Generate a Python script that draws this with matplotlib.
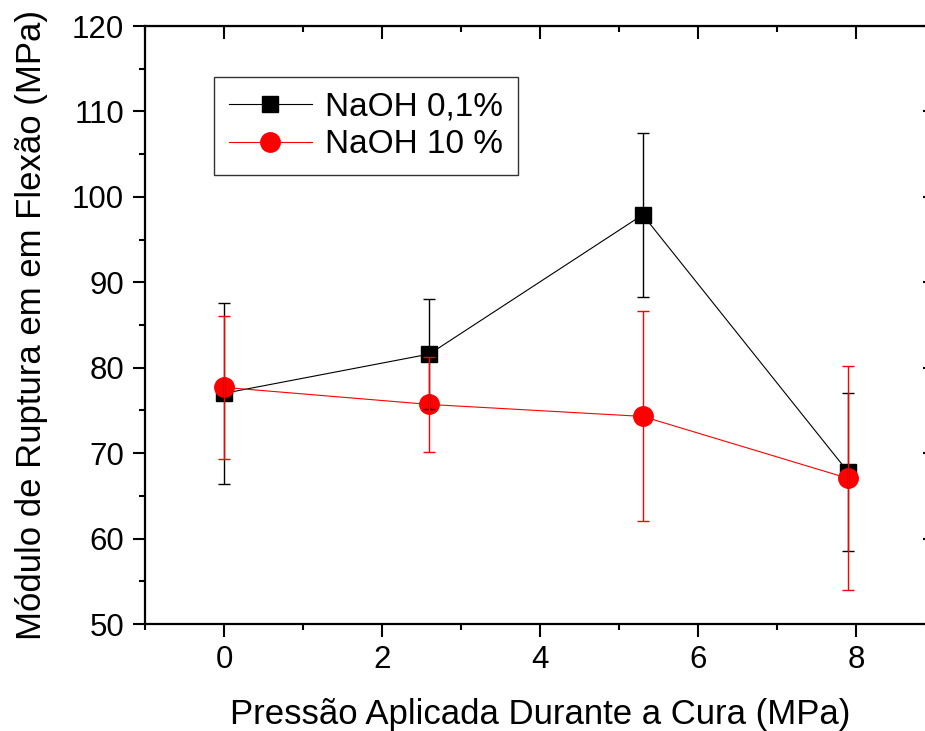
import matplotlib
matplotlib.use("Agg")
import matplotlib.pyplot as plt
from matplotlib.ticker import MultipleLocator

plt.rcParams['font.family'] = ['Liberation Sans', 'DejaVu Sans']

# pressure applied during curing (MPa)
pressao = [0, 2.6, 5.3, 7.9]

# NaOH 0,1%
mor_01 = [77.0, 81.6, 97.9, 67.8]
err_01 = [10.6, 6.4, 9.6, 9.2]

# NaOH 10 %
mor_10 = [77.7, 75.7, 74.3, 67.05]
err_10 = [8.4, 5.6, 12.3, 13.1]

fig = plt.figure(figsize=(9.25, 7.31), dpi=100)
ax = fig.add_axes([145 / 925, 107 / 731, 790 / 925, 598 / 731])

ax.plot(pressao, mor_01, color='black', lw=0.8, marker='s', ms=12,
        mec='black', mfc='black', label='NaOH 0,1%', zorder=2)
ax.plot(pressao, mor_10, color='red', lw=0.8, marker='o', ms=14,
        mec='red', mfc='red', label='NaOH 10 %', zorder=2)

# error bars drawn over the markers
ax.errorbar(pressao, mor_01, yerr=err_01, fmt='none', ecolor='black',
            elinewidth=1.0, capsize=4.5, capthick=1.0, zorder=3)
ax.errorbar(pressao, mor_10, yerr=err_10, fmt='none', ecolor='red',
            elinewidth=1.0, capsize=4.5, capthick=1.0, zorder=4)

ax.set_xlim(-1, 9)
ax.set_ylim(50, 120)
ax.xaxis.set_major_locator(MultipleLocator(2))
ax.xaxis.set_minor_locator(MultipleLocator(1))
ax.yaxis.set_major_locator(MultipleLocator(10))
ax.yaxis.set_minor_locator(MultipleLocator(5))

for s in ax.spines.values():
    s.set_linewidth(1.6)

ax.tick_params(which='both', direction='out', width=1.5, labelsize=22.5,
               top=False, right=False)
ax.tick_params(which='major', length=9, pad=6)
ax.tick_params(which='minor', length=4.5)

# mirrored inward ticks on top and right
sec = ax.secondary_xaxis('top')
sec.xaxis.set_major_locator(MultipleLocator(2))
sec.xaxis.set_minor_locator(MultipleLocator(1))
sec.tick_params(which='both', direction='in', width=1.5, labeltop=False)
sec.tick_params(which='major', length=9)
sec.tick_params(which='minor', length=4.5)
secy = ax.secondary_yaxis('right')
secy.yaxis.set_major_locator(MultipleLocator(10))
secy.yaxis.set_minor_locator(MultipleLocator(5))
secy.tick_params(which='both', direction='in', width=1.5, labelright=False)
secy.tick_params(which='major', length=9)
secy.tick_params(which='minor', length=4.5)

ax.set_xlabel('Pressão Aplicada Durante a Cura (MPa)', fontsize=25, labelpad=17)
ax.set_ylabel('Módulo de Ruptura em em Flexão (MPa)', fontsize=25, labelpad=17)

leg = ax.legend(loc='upper left', bbox_to_anchor=(0.087, 0.915),
                borderaxespad=0, fontsize=24,
                frameon=True, fancybox=False, edgecolor='black',
                handlelength=2.5, borderpad=0.45, labelspacing=0.2,
                handletextpad=0.4)
leg.get_frame().set_linewidth(1.0)

fig.savefig('out.png', dpi=100)
